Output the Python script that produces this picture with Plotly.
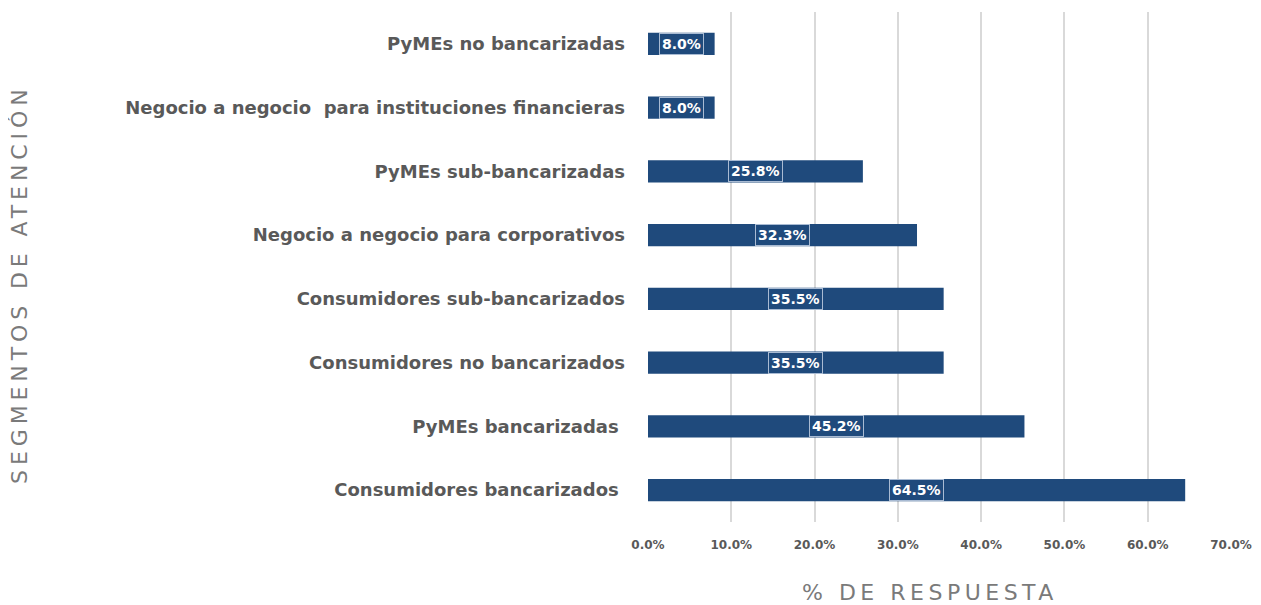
import plotly.graph_objects as go

categories = [
    "Consumidores bancarizados ",
    "PyMEs bancarizadas ",
    "Consumidores no bancarizados",
    "Consumidores sub-bancarizados",
    "Negocio a negocio para corporativos",
    "PyMEs sub-bancarizadas",
    "Negocio a negocio  para instituciones financieras",
    "PyMEs no bancarizadas",
]
values = [64.5, 45.2, 35.5, 35.5, 32.3, 25.8, 8.0, 8.0]
tick_vals = [0, 10, 20, 30, 40, 50, 60, 70]
tick_text = ["0.0%", "10.0%", "20.0%", "30.0%", "40.0%", "50.0%", "60.0%", "70.0%"]

bar_color = "#1F4A7C"
gray = "#595959"

fig = go.Figure()
fig.add_trace(go.Bar(
    x=values, y=categories, orientation="h",
    marker=dict(color=bar_color, line=dict(width=0)),
    width=0.35, hoverinfo="skip",
))

for c, v in zip(categories, values):
    fig.add_annotation(
        x=v / 2, y=c, xref="x", yref="y", text=f"<b>{v:.1f}%</b>",
        showarrow=False, font=dict(family="DejaVu Sans", size=14, color="white"),
        bgcolor=bar_color, bordercolor="#A9BBD3", borderwidth=1, borderpad=2,
    )

fig.add_annotation(
    x=-1.077, y=0.465, xref="paper", yref="paper", xanchor="center", yanchor="middle",
    text='<span style="letter-spacing:4.9px">SEGMENTOS DE ATENCIÓN</span>',
    textangle=-90, showarrow=False,
    font=dict(family="DejaVu Sans", size=22, color="#7a7a7a"),
)
fig.add_annotation(
    x=0.484, y=-0.139, xref="paper", yref="paper", xanchor="center", yanchor="middle",
    text='<span style="letter-spacing:4.5px">% DE RESPUESTA</span>',
    showarrow=False,
    font=dict(family="DejaVu Sans", size=22, color="#7a7a7a"),
)

fig.update_layout(
    width=1253, height=597,
    margin=dict(l=640, r=30, t=4, b=83),
    paper_bgcolor="white", plot_bgcolor="white",
    showlegend=False,
    xaxis=dict(
        range=[0, 70], tickvals=tick_vals, ticktext=tick_text,
        showgrid=True, gridcolor="#D9D9D9", gridwidth=1.5,
        zeroline=False, showline=False,
        tickfont=dict(family="DejaVu Sans", size=12, color=gray, weight="bold"),
        ticks="", ticklabelstandoff=14,
    ),
    yaxis=dict(
        showgrid=False, zeroline=False, showline=False,
        tickfont=dict(family="DejaVu Sans", size=18, color=gray, weight="bold"),
        ticklabelstandoff=22,
    ),
)

fig.write_html("out.html")
